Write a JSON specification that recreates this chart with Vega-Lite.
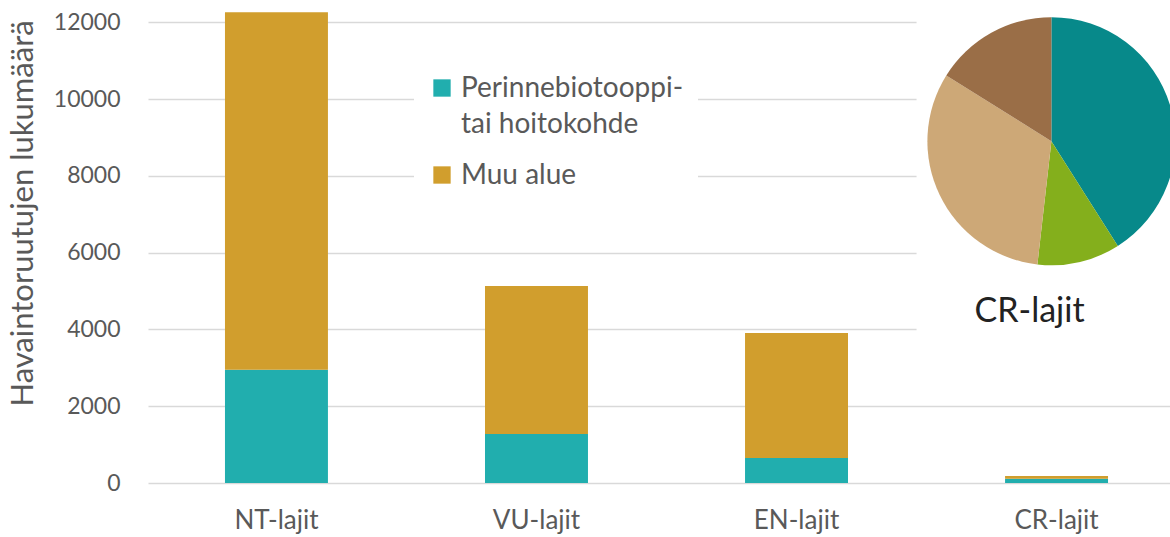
{
  "$schema": "https://vega.github.io/schema/vega-lite/v6.json",
  "width": 1022,
  "height": 480,
  "autosize": {"type": "none"},
  "padding": {"left": 148, "top": 3, "right": 0, "bottom": 54},
  "background": "#ffffff",
  "config": {
    "font": "Lato",
    "view": {"stroke": null}
  },
  "layer": [
    {
      "data": {"values": [{"alku": 0.752, "loppu": 1.0, "ala": 3300, "yla": 12500}]},
      "mark": {"type": "rect", "color": "#ffffff"},
      "encoding": {
        "x": {"field": "alku", "type": "quantitative", "scale": {"domain": [0, 1], "nice": false}, "axis": null},
        "x2": {"field": "loppu"},
        "y": {"field": "ala", "type": "quantitative", "scale": {"domain": [0, 12500], "nice": false}},
        "y2": {"field": "yla"}
      }
    },
    {
      "layer": [
        {
          "data": {
            "values": [
              {"laji": "NT-lajit", "alue": "Perinnebiotooppi- tai hoitokohde", "ord": 1, "ruudut": 2950},
              {"laji": "NT-lajit", "alue": "Muu alue", "ord": 2, "ruudut": 9310},
              {"laji": "VU-lajit", "alue": "Perinnebiotooppi- tai hoitokohde", "ord": 1, "ruudut": 1275},
              {"laji": "VU-lajit", "alue": "Muu alue", "ord": 2, "ruudut": 3855},
              {"laji": "EN-lajit", "alue": "Perinnebiotooppi- tai hoitokohde", "ord": 1, "ruudut": 650},
              {"laji": "EN-lajit", "alue": "Muu alue", "ord": 2, "ruudut": 3255},
              {"laji": "CR-lajit", "alue": "Perinnebiotooppi- tai hoitokohde", "ord": 1, "ruudut": 110},
              {"laji": "CR-lajit", "alue": "Muu alue", "ord": 2, "ruudut": 75}
            ]
          },
          "mark": {"type": "bar"},
          "encoding": {
            "x": {
              "field": "laji",
              "type": "nominal",
              "sort": ["NT-lajit", "VU-lajit", "EN-lajit", "CR-lajit"],
              "scale": {"paddingInner": 0.604, "paddingOuter": 0.296, "range": [0, 1037]},
              "axis": {
                "title": null,
                "labelAngle": 0,
                "ticks": false,
                "domain": false,
                "grid": false,
                "labelFontSize": 26,
                "labelColor": "#595959",
                "labelPadding": 24,
                "labelFont": "Lato"
              }
            },
            "y": {
              "field": "ruudut",
              "type": "quantitative",
              "stack": "zero",
              "scale": {"domain": [0, 12500], "nice": false},
              "axis": {
                "title": "Havaintoruutujen lukumäärä",
                "titleFontSize": 31,
                "titleFontWeight": "normal",
                "titleColor": "#595959",
                "titlePadding": 14,
                "titleY": 210,
                "values": [0, 2000, 4000, 6000, 8000, 10000, 12000],
                "format": "d",
                "ticks": false,
                "domain": false,
                "labelPadding": 28,
                "labelFontSize": 23,
                "labelColor": "#595959",
                "gridColor": "#D9D9D9",
                "gridWidth": 1.5
              }
            },
            "color": {
              "field": "alue",
              "type": "nominal",
              "scale": {
                "domain": ["Perinnebiotooppi- tai hoitokohde", "Muu alue"],
                "range": ["#21AEAE", "#D19E2D"]
              },
              "legend": {
                "title": null,
                "orient": "none",
                "legendX": 266,
                "legendY": 57,
                "symbolType": "square",
                "symbolSize": 300,
                "symbolStrokeWidth": 0,
                "labelFontSize": 28,
                "labelColor": "#595959",
                "labelOffset": 5,
                "rowPadding": 22,
                "fillColor": "#ffffff",
                "padding": 14,
                "labelBaseline": "alphabetic",
                "labelExpr": "datum.label == 'Perinnebiotooppi- tai hoitokohde' ? ['Perinnebiotooppi-', 'tai hoitokohde'] : datum.label",
                "labelLimit": 400,
                "encoding": {
                  "labels": {"lineHeight": {"value": 36}, "dy": {"value": 9}}
                }
              }
            },
            "order": {"field": "ord", "type": "quantitative"}
          }
        },
        {
          "data": {
            "values": [
              {"osa": "osa 1", "jarj": 1, "osuus": 41.0},
              {"osa": "osa 2", "jarj": 2, "osuus": 10.8},
              {"osa": "osa 3", "jarj": 3, "osuus": 32.1},
              {"osa": "osa 4", "jarj": 4, "osuus": 16.1}
            ]
          },
          "mark": {"type": "arc", "outerRadius": 124},
          "encoding": {
            "x": {"datum": "CR-lajit", "type": "nominal", "bandPosition": 0.45},
            "y": {"datum": 8900, "type": "quantitative"},
            "theta": {"field": "osuus", "type": "quantitative", "stack": true},
            "order": {"field": "jarj", "type": "quantitative"},
            "color": {
              "field": "osa",
              "type": "nominal",
              "scale": {
                "domain": ["osa 1", "osa 2", "osa 3", "osa 4"],
                "range": ["#07898A", "#84AF1C", "#CDA877", "#9A6E47"]
              },
              "legend": null
            }
          }
        },
        {
          "data": {"values": [{"teksti": "CR-lajit"}]},
          "mark": {"type": "text", "fontSize": 34, "color": "#222222", "dx": -27, "font": "Lato"},
          "encoding": {
            "x": {"datum": "CR-lajit", "type": "nominal"},
            "y": {"datum": 4450, "type": "quantitative"},
            "text": {"field": "teksti", "type": "nominal"}
          }
        }
      ],
      "resolve": {"scale": {"color": "independent"}}
    }
  ],
  "resolve": {"scale": {"color": "independent", "x": "independent"}}
}
